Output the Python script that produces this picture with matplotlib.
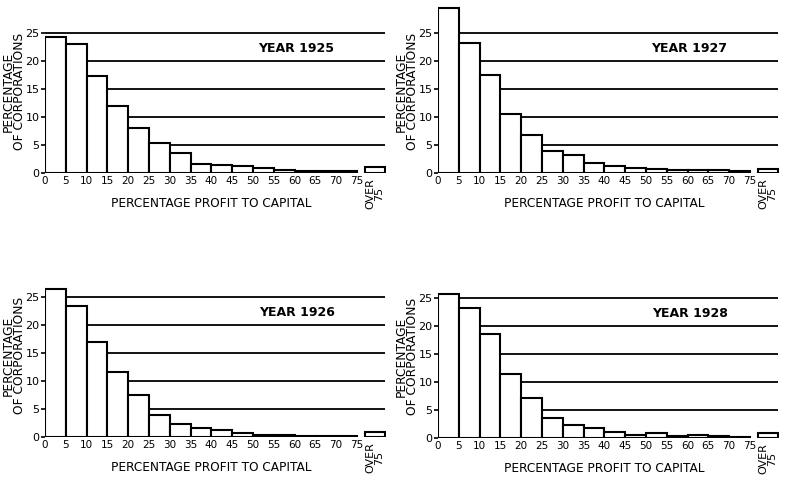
import numpy as np
import matplotlib.pyplot as plt

edges = [0, 5, 10, 15, 20, 25, 30, 35, 40, 45, 50, 55, 60, 65, 70]
tick_labels = ['0', '5', '10', '15', '20', '25', '30', '35', '40', '45',
               '50', '55', '60', '65', '70', '75']
over_label = 'OVER\n75'

pct_1925 = [24.35, 23.05, 17.4, 11.9, 8.0, 5.4, 3.5, 1.65, 1.4, 1.2, 0.9, 0.6, 0.35, 0.4, 0.3]
pct_1927 = [29.4, 23.2, 17.55, 10.5, 6.7, 3.85, 3.25, 1.8, 1.2, 0.95, 0.65, 0.6, 0.55, 0.6, 0.35]
pct_1926 = [26.45, 23.4, 16.9, 11.6, 7.5, 3.9, 2.35, 1.6, 1.2, 0.8, 0.4, 0.3, 0.2, 0.25, 0.2]
pct_1928 = [25.8, 23.2, 18.6, 11.4, 7.1, 3.6, 2.4, 1.8, 1.1, 0.6, 0.85, 0.4, 0.55, 0.35, 0.25]
over_75 = {'1925': 1.1, '1927': 0.8, '1926': 0.9, '1928': 0.9}

panels = [
    ('1925', pct_1925, [45 / 786, 1 - 173 / 480]),
    ('1927', pct_1927, [438 / 786, 1 - 173 / 480]),
    ('1926', pct_1926, [45 / 786, 1 - 437 / 480]),
    ('1928', pct_1928, [438 / 786, 1 - 438 / 480]),
]

plt.rcParams['font.family'] = 'DejaVu Sans'
fig = plt.figure(figsize=(7.86, 4.8), dpi=100)

for year, vals, (left, bottom) in panels:
    ax = fig.add_axes([left, bottom, 341 / 786, 168 / 480])
    ax.set_xlim(0, 82)
    ax.set_ylim(0, 30)
    for s in ax.spines.values():
        s.set_visible(False)

    for g in [5, 10, 15, 20, 25]:
        ax.hlines(g, 0, 81.7, color='black', lw=1.3, zorder=1)

    ax.bar(edges, vals, width=5, align='edge', facecolor='white',
           edgecolor='black', lw=1.5, zorder=2)
    ax.bar([77], [over_75[year]], width=4.7, align='edge', facecolor='white',
           edgecolor='black', lw=1.5, zorder=2)

    ax.set_yticks([0, 5, 10, 15, 20, 25])
    ax.set_yticklabels(['0', '5', '10', '15', '20', '25'], fontsize=8)
    ax.tick_params(axis='y', length=3, width=1.2, pad=1)
    ax.set_xticks(list(range(0, 80, 5)))
    ax.set_xticklabels(tick_labels, fontsize=7.5)
    ax.tick_params(axis='x', length=0, pad=2)

    ax.text(79.3, -1.0, over_label, rotation=90, ha='center', va='top',
            fontsize=8, linespacing=0.85)
    ax.text(60.5, 22.3, 'YEAR ' + year, ha='center', va='center',
            fontsize=9, fontweight='bold')
    ax.text(40, -5.5, 'PERCENTAGE PROFIT TO CAPITAL', ha='center', va='center',
            fontsize=8.7)
    ax.text(-7.5, 14.5, 'PERCENTAGE\nOF CORPORATIONS', rotation=90,
            ha='center', va='center', fontsize=8.8, linespacing=0.85)

fig.savefig('out.png', dpi=100)
